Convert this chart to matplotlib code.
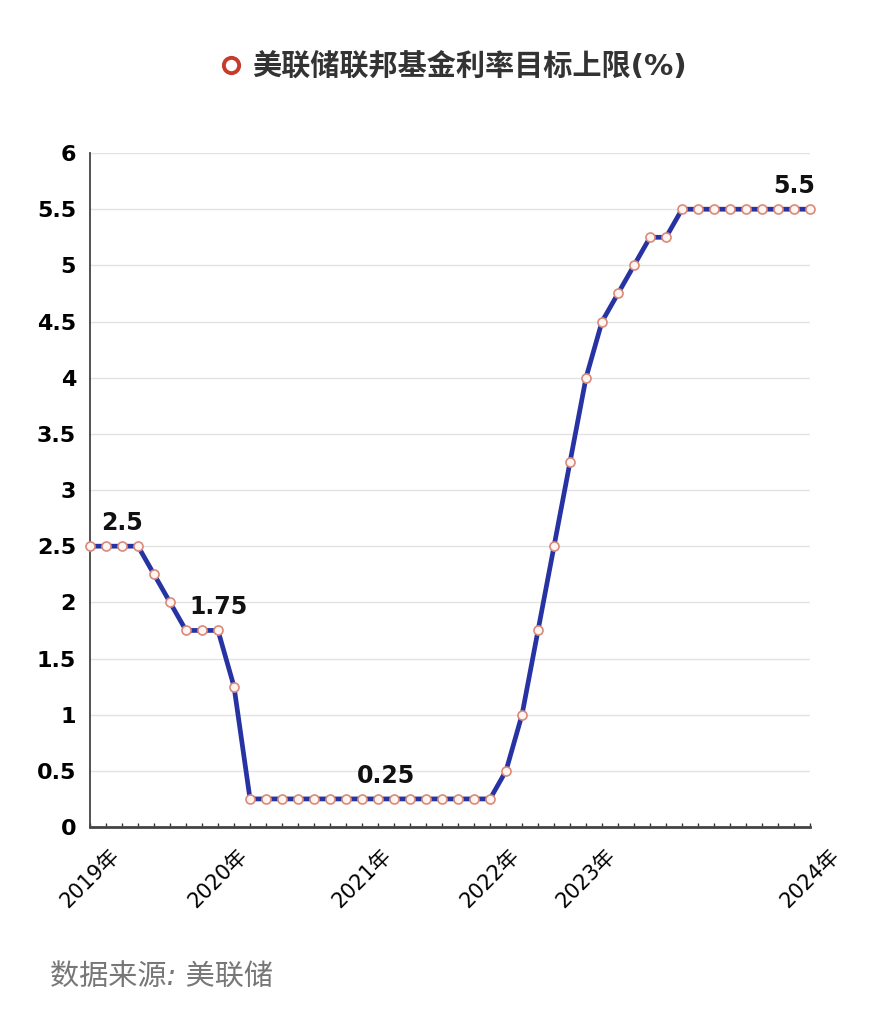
import matplotlib
matplotlib.use("Agg")
import matplotlib.pyplot as plt
from matplotlib.lines import Line2D
from matplotlib.ticker import FormatStrFormatter, FixedLocator, MultipleLocator

plt.rcParams['font.family'] = ['DejaVu Sans', 'Noto Sans CJK SC']

# upper bound of the fed funds target, one value per FOMC decision
rates = [2.5, 2.5, 2.5, 2.5, 2.25, 2.0, 1.75, 1.75, 1.75, 1.25,
         0.25, 0.25, 0.25, 0.25, 0.25, 0.25, 0.25, 0.25,
         0.25, 0.25, 0.25, 0.25, 0.25, 0.25, 0.25, 0.25,
         0.5, 1.0, 1.75, 2.5, 3.25, 4.0, 4.5, 4.75, 5.0, 5.25, 5.25,
         5.5, 5.5, 5.5, 5.5, 5.5, 5.5, 5.5, 5.5, 5.5]
year_pos = [0, 8, 17, 25, 31, 45]
year_labels = ['2019年', '2020年', '2021年', '2022年', '2023年', '2024年']
note_pos = [2, 8, 18.5, 44]
note_vals = [2.5, 1.75, 0.25, 5.5]
note_text = ['2.5', '1.75', '0.25', '5.5']

title = '美联储联邦基金利率目标上限(%)'
source = '数据来源: 美联储'

fig = plt.figure(figsize=(8.78, 10.21), dpi=100)
ax = fig.add_axes([0.1025, 0.19, 0.8201, 0.6601])

x = list(range(len(rates)))
ax.plot(x, rates, color='#2732a3', lw=3.4, marker='o', ms=6.5,
        mfc='#fff6f3', mec='#d98a78', mew=1.2, zorder=3, clip_on=False)

# point labels
for px, v, t in zip(note_pos, note_vals, note_text):
    ax.annotate(t, (px, v), xytext=(0, 8), textcoords='offset points',
                ha='center', va='bottom', fontsize=17, color='#111',
                fontweight='bold')

ax.set_xlim(0, len(rates) - 1)
ax.set_ylim(0, 6)
ax.yaxis.set_major_locator(MultipleLocator(0.5))
ax.yaxis.set_major_formatter(FormatStrFormatter('%g'))
ax.grid(axis='y', color='#e3e3e3', lw=1)
ax.set_axisbelow(True)

ax.xaxis.set_major_locator(FixedLocator(year_pos))
ax.xaxis.set_minor_locator(MultipleLocator(1))
ax.set_xticklabels(year_labels, rotation=45, ha='center', fontsize=15)
ax.tick_params(axis='x', which='both', direction='in', length=3, width=1,
               color='#333', pad=13)
ax.tick_params(axis='y', length=0, pad=10, labelsize=16)
for lab in ax.get_yticklabels():
    lab.set_fontweight('bold')

for s in ['top', 'right']:
    ax.spines[s].set_visible(False)
ax.spines['left'].set_color('#444')
ax.spines['left'].set_linewidth(1.3)
ax.spines['bottom'].set_color('#444')
ax.spines['bottom'].set_linewidth(2)

handle = Line2D([], [], ls='none', marker='o', ms=11, mfc='white',
                mec='#c63b2a', mew=2.8)
fig.legend([handle], [title], loc='center', bbox_to_anchor=(0.506, 0.934),
           frameon=False, handletextpad=-0.3,
           prop={'size': 21, 'weight': 'bold'}, labelcolor='#333')

fig.text(0.057, 0.042, source, fontsize=21, color='#777', style='italic',
         va='center', ha='left')

fig.savefig('out.png', dpi=100)
